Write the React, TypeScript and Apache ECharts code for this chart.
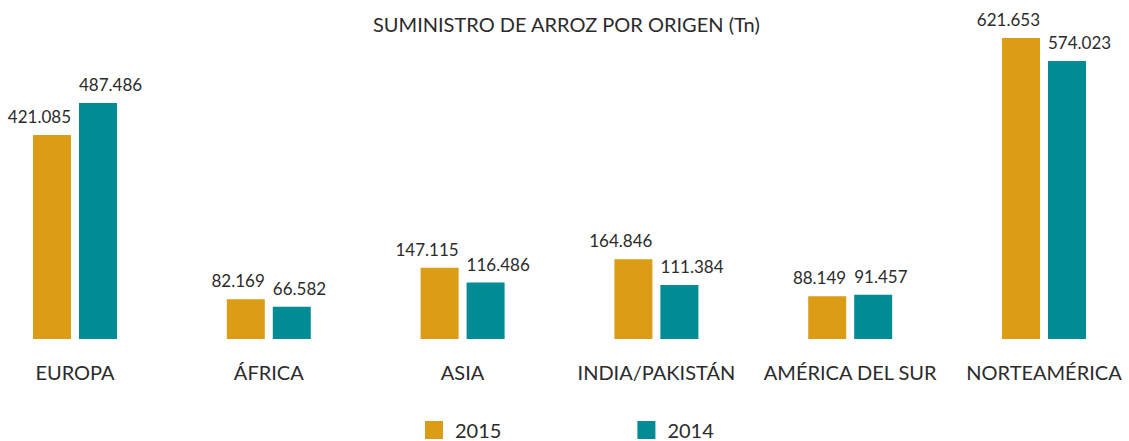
import React, { useEffect, useRef } from "react";
import * as echarts from "echarts";

const categories = ["EUROPA", "ÁFRICA", "ASIA", "INDIA/PAKISTÁN", "AMÉRICA DEL SUR", "NORTEAMÉRICA"];
const values2015 = [421085, 82169, 147115, 164846, 88149, 621653];
const values2014 = [487486, 66582, 116486, 111384, 91457, 574023];
const seriesNames = ["2015", "2014"];
const titleText = "SUMINISTRO DE ARROZ POR ORIGEN (Tn)";

const FONT = "Lato, 'Open Sans', sans-serif";
const TEXT = "#2b2b2b";
const fmt = (v: number) => String(v).replace(/\B(?=(\d{3})+(?!\d))/g, ".");

export default function App() {
  const ref = useRef<HTMLDivElement>(null);
  useEffect(() => {
    if (!ref.current) return;
    const chart = echarts.init(ref.current, null, { renderer: "svg" });
    chart.setOption({
      animation: false,
      title: {
        text: titleText,
        left: 373,
        top: 14,
        padding: 0,
        textStyle: { fontFamily: FONT, fontSize: 20, fontWeight: "normal", color: TEXT },
      },
      legend: {
        data: seriesNames,
        left: 425,
        top: 420,
        padding: 0,
        itemWidth: 18,
        itemHeight: 18,
        itemGap: 136,
        icon: "rect",
        textStyle: { fontFamily: FONT, fontSize: 20, lineHeight: 20, color: TEXT, padding: [0, 0, 0, 7] },
      },
      grid: { left: 75, right: 85, top: 30, bottom: 102, containLabel: false },
      xAxis: {
        type: "category",
        data: categories,
        boundaryGap: false,
        axisLine: { show: false },
        axisTick: { show: false },
        axisLabel: { interval: 0, fontFamily: FONT, fontSize: 20, color: TEXT, margin: 23 },
      },
      yAxis: { type: "value", min: 0, max: 638000, show: false, splitLine: { show: false } },
      series: [
        {
          name: seriesNames[0],
          type: "bar",
          data: values2015,
          barWidth: 38,
          barGap: "21%",
          itemStyle: { color: "#DB9D15" },
          label: {
            show: true,
            position: "top",
            align: "right",
            offset: [19, 0],
            distance: 10,
            formatter: (p: any) => fmt(p.value),
            fontFamily: FONT,
            fontSize: 17,
            color: TEXT,
          },
        },
        {
          name: seriesNames[1],
          type: "bar",
          data: values2014,
          barWidth: 38,
          itemStyle: { color: "#008B95" },
          label: {
            show: true,
            position: "top",
            align: "left",
            offset: [-19, 0],
            distance: 10,
            formatter: (p: any) => fmt(p.value),
            fontFamily: FONT,
            fontSize: 17,
            color: TEXT,
          },
        },
      ],
    });
    return () => chart.dispose();
  }, []);
  return (
    <div
      ref={ref}
      style={{ position: "fixed", left: 0, top: 0, width: 1129, height: 441, background: "#fff" }}
    />
  );
}
